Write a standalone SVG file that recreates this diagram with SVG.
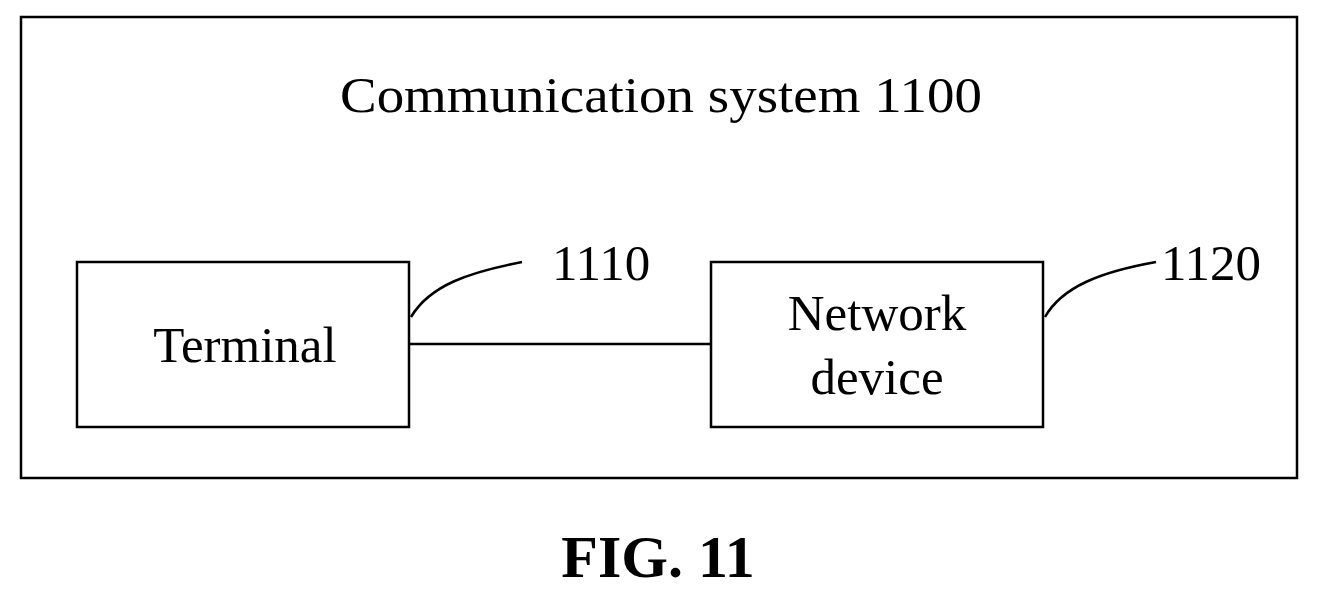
<svg xmlns="http://www.w3.org/2000/svg" width="1319" height="598" viewBox="0 0 1319 598">
<style>
.b{fill:none;stroke:#000;stroke-width:2.5}
.t{font-family:"Liberation Serif",serif;font-size:51px;fill:#000}
</style>
<rect width="1319" height="598" fill="#fff"/>
<g id="system"><rect class="b" x="21" y="17" width="1276" height="461"/>
<text class="t" x="661" y="112" text-anchor="middle" textLength="642" lengthAdjust="spacingAndGlyphs">Communication system 1100</text></g>
<g id="terminal"><rect class="b" x="77" y="262" width="332" height="165"/>
<text class="t" x="245" y="362" text-anchor="middle">Terminal</text></g>
<g id="network"><rect class="b" x="711" y="262" width="332" height="165"/>
<text class="t" x="877" y="330" text-anchor="middle">Network</text>
<text class="t" x="877" y="394" text-anchor="middle">device</text></g>
<g id="connectors">
<line class="b" x1="409" y1="344" x2="711" y2="344"/>
<path class="b" d="M411 317 C430 285 470 272 522 262"/>
<path class="b" d="M1045 317 C1062 287 1100 272 1156 262"/>
</g>
<text class="t" x="552" y="280">1110</text>
<text class="t" x="1161" y="280">1120</text>
<text x="658" y="577" text-anchor="middle" style="font-family:'Liberation Serif',serif;font-size:60px;font-weight:bold">FIG. 11</text>
</svg>
